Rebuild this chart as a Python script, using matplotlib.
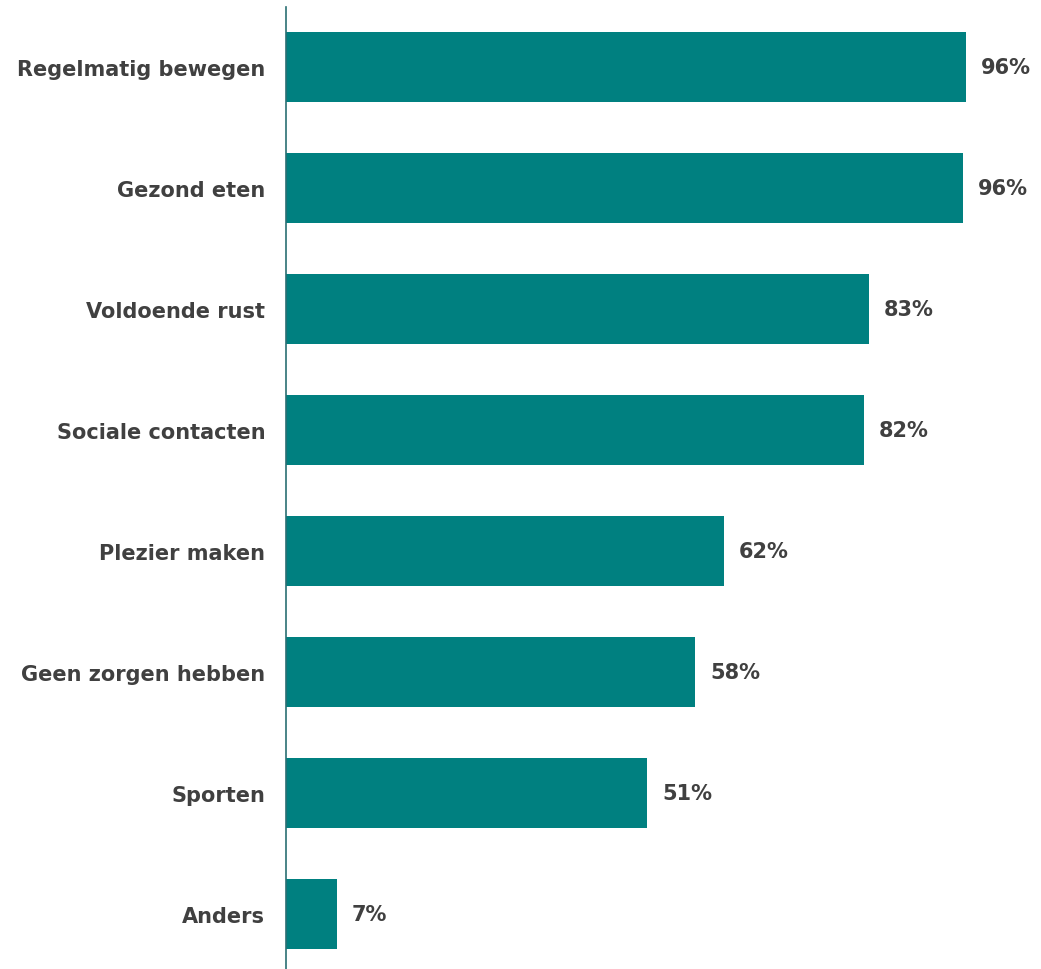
import matplotlib
matplotlib.use('Agg')
import matplotlib.pyplot as plt

categories = ['Regelmatig bewegen', 'Gezond eten', 'Voldoende rust', 'Sociale contacten',
              'Plezier maken', 'Geen zorgen hebben', 'Sporten', 'Anders']
values = [96.4, 96.0, 82.6, 81.9, 62.1, 58.0, 51.2, 7.2]

BAR = '#008080'
TEXT = '#404040'

plt.rcParams['font.family'] = ['DejaVu Sans']

W, H = 1041, 970
fig = plt.figure(figsize=(W / 100, H / 100), dpi=100)
ax = fig.add_axes([286 / W, 0, 705.5 / W, (H - 8) / H])

y = list(range(len(categories)))
bars = ax.barh(y, values, height=0.58, color=BAR)

# value labels right of each bar
for b, v in zip(bars, values):
    ax.annotate(f'{round(v)}%', (b.get_width(), b.get_y() + b.get_height() / 2),
                xytext=(15, 0), textcoords='offset pixels',
                ha='left', va='center', fontsize=15, fontweight='bold', color=TEXT)

ax.set_xlim(0, 100)
ax.set_ylim(7.455, -0.496)
ax.set_yticks(y)
ax.set_yticklabels(categories, fontsize=15, fontweight='bold', color=TEXT)
ax.tick_params(axis='y', length=0, pad=15)
ax.set_xticks([])

for s in ['top', 'right', 'bottom']:
    ax.spines[s].set_visible(False)
ax.spines['left'].set_color('#2a6f73')
ax.spines['left'].set_linewidth(1.2)

fig.savefig('out.png', dpi=100, facecolor='white')
